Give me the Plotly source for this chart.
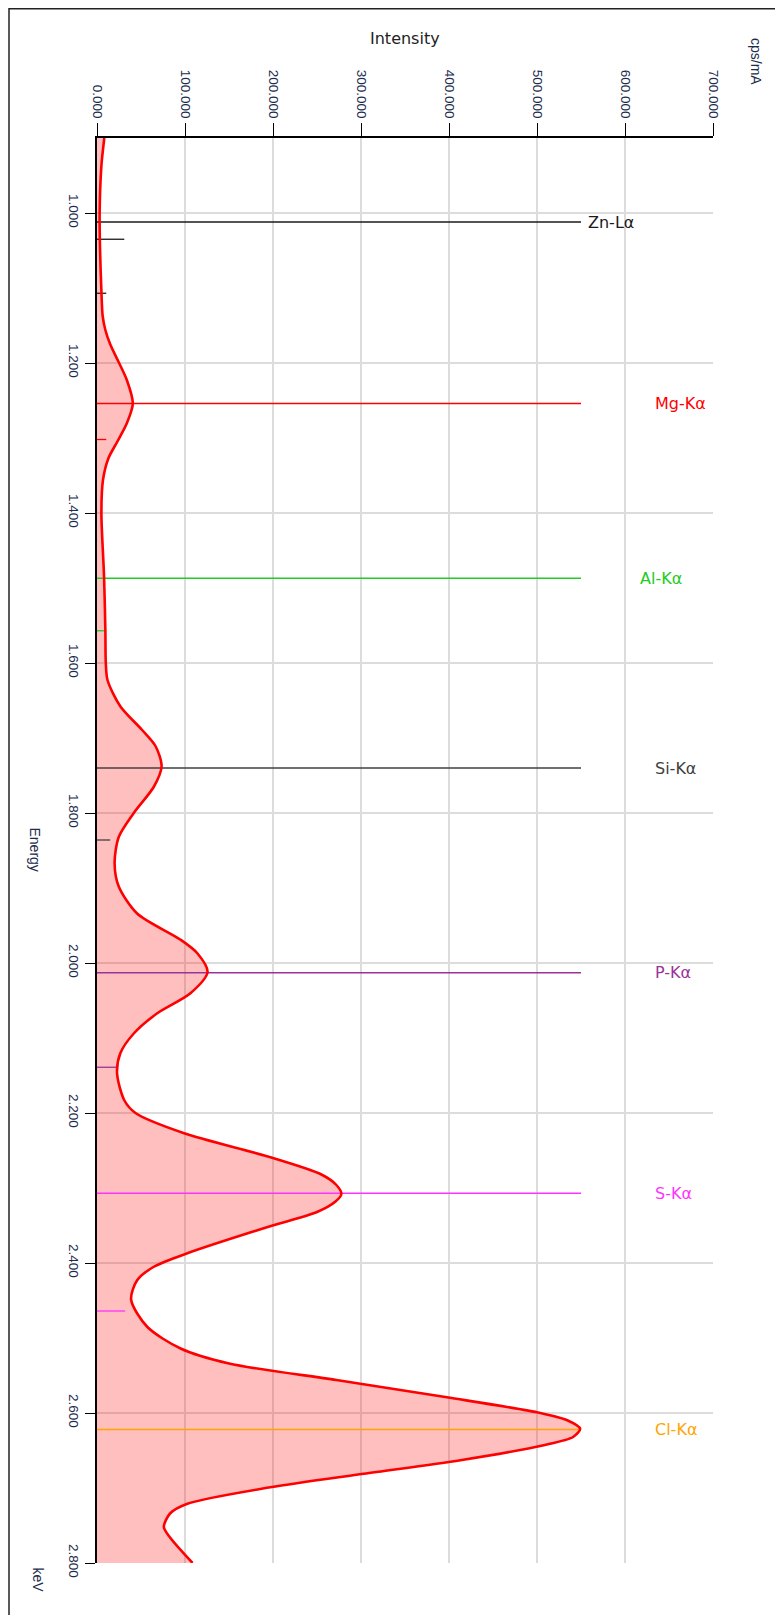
import plotly.graph_objects as go

# ---------------- data ----------------
# spectrum: energy (keV) and intensity (cps/mA)
energy_kev = [0.900, 0.937, 1.000, 1.050, 1.104, 1.137, 1.156, 1.175, 1.199, 1.223,
              1.254, 1.280, 1.304, 1.327, 1.356, 1.400, 1.484, 1.556, 1.600, 1.623,
              1.658, 1.689, 1.711, 1.738, 1.765, 1.800, 1.832, 1.867, 1.898, 1.934,
              1.969, 1.987, 2.012, 2.040, 2.067, 2.094, 2.120, 2.147, 2.183, 2.200,
              2.227, 2.258, 2.282, 2.296, 2.308, 2.318, 2.332, 2.352, 2.387, 2.405,
              2.423, 2.449, 2.485, 2.514, 2.534, 2.556, 2.579, 2.600, 2.610, 2.621,
              2.632, 2.643, 2.663, 2.681, 2.699, 2.721, 2.734, 2.752, 2.766, 2.800]
intensity = [8.3, 5.0, 3.0, 3.5, 5.0, 6.4, 9.5, 15.0, 24.7, 34.0,
             40.7, 34.0, 23.5, 13.0, 6.8, 5.0, 8.0, 9.5, 10.0, 12.0,
             26.6, 51.0, 66.6, 73.4, 64.6, 41.8, 24.7, 20.0, 24.7, 45.6,
             95.0, 114.0, 125.6, 106.5, 68.5, 41.8, 26.6, 22.8, 31.0, 43.7,
             99.0, 194.0, 255.0, 272.0, 277.7, 271.0, 250.0, 194.0, 102.7, 64.6,
             45.6, 38.8, 57.0, 95.0, 150.0, 272.0, 397.6, 503.8, 535.0, 549.0,
             541.0, 507.6, 413.0, 303.0, 197.0, 102.7, 83.0, 76.0, 83.0, 108.6]

# element line markers
line_names = ["Zn-Lα", "Mg-Kα", "Al-Kα", "Si-Kα", "P-Kα", "S-Kα", "Cl-Kα"]
line_energy = [1.012, 1.254, 1.487, 1.740, 2.013, 2.307, 2.622]
line_height = [550, 550, 550, 550, 550, 550, 550]
line_colors = ["#1a1a1a", "#ff0000", "#22cc22", "#404040", "#993399", "#ff33ff", "#ffa500"]

# minor (beta) line markers
minor_energy = [1.035, 1.107, 1.302, 1.557, 1.836, 2.139, 2.464]
minor_height = [31, 10.5, 10.5, 10, 15, 22.8, 32]
minor_colors = ["#1a1a1a", "#1a1a1a", "#ff0000", "#22cc22", "#404040", "#993399", "#ff33ff"]

x_ticks = [0, 100, 200, 300, 400, 500, 600, 700]
y_ticks = [1.0, 1.2, 1.4, 1.6, 1.8, 2.0, 2.2, 2.4, 2.6, 2.8]

# ---------------- layout helpers ----------------
OFF = 8                      # page body margin
W, H = 783 - OFF, 1615 - OFF
# plot area in page pixels
PL, PR, PT, PB = 97, 713, 138, 1563


def px(xp):
    return (xp - PL) / (PR - PL)


def py(yp):
    return (PB - yp) / (PB - PT)


FONT = "DejaVu Sans"
RFONT = "Liberation Sans"
TXT = "#1c2c4c"

fig = go.Figure()

# spectrum fill
fig.add_trace(go.Scatter(
    x=intensity, y=energy_kev, mode="lines",
    line=dict(color="rgba(0,0,0,0)", width=0, shape="spline", smoothing=0.8),
    fill="tozerox", fillcolor="rgba(255,0,0,0.25)", hoverinfo="skip", showlegend=False))

# element lines
for e, h, c in zip(line_energy, line_height, line_colors):
    fig.add_trace(go.Scatter(x=[0, h], y=[e, e], mode="lines",
                             line=dict(color=c, width=1.3), showlegend=False, hoverinfo="skip"))
for e, h, c in zip(minor_energy, minor_height, minor_colors):
    fig.add_trace(go.Scatter(x=[0, h], y=[e, e], mode="lines",
                             line=dict(color=c, width=1.3), showlegend=False, hoverinfo="skip"))

# spectrum line
fig.add_trace(go.Scatter(
    x=intensity, y=energy_kev, mode="lines",
    line=dict(color="#ff0000", width=2.6, shape="spline", smoothing=0.8),
    showlegend=False))

annotations = []
for i, (name, e, c) in enumerate(zip(line_names, line_energy, line_colors)):
    if i == 0:
        xa = 556
    elif name.startswith("Al"):
        xa = 615
    else:
        xa = 632
    annotations.append(dict(x=xa, y=e, xref="x", yref="y", text=name, showarrow=False,
                            xanchor="left", yanchor="middle",
                            font=dict(family=FONT, size=16, color=c)))

annotations += [
    dict(x=px(405), y=py(38), xref="paper", yref="paper", text="Intensity", showarrow=False,
         xanchor="center", yanchor="middle", font=dict(family=FONT, size=16, color="#222222")),
    dict(x=px(756), y=py(61), xref="paper", yref="paper", text="cps/mA", showarrow=False,
         textangle=90, xanchor="center", yanchor="middle", font=dict(family=RFONT, size=14, color=TXT)),
    dict(x=px(34.5), y=py(849), xref="paper", yref="paper", text="Energy", showarrow=False,
         textangle=90, xanchor="center", yanchor="middle", font=dict(family=RFONT, size=14, color=TXT)),
    dict(x=px(37.5), y=py(1580), xref="paper", yref="paper", text="keV", showarrow=False,
         textangle=90, xanchor="center", yanchor="middle", font=dict(family=RFONT, size=14, color=TXT)),
]

shapes = [
    dict(type="line", xref="paper", yref="paper", x0=px(9), x1=px(800), y0=py(8.8), y1=py(8.8),
         line=dict(color="#222222", width=1.5)),
    dict(type="line", xref="paper", yref="paper", x0=px(9), x1=px(9), y0=py(8), y1=py(1630),
         line=dict(color="#222222", width=1.5)),
]

fig.update_layout(
    width=W, height=H, autosize=False,
    margin=dict(l=PL - OFF, r=W - (PR - OFF), t=PT - OFF, b=H - (PB - OFF), pad=0),
    paper_bgcolor="white", plot_bgcolor="white",
    annotations=annotations, shapes=shapes, showlegend=False,
    xaxis=dict(range=[0, 700], side="top", tickvals=x_ticks, tickformat=".3f", tickangle=90,
               ticks="outside", ticklen=13, tickcolor="#000000", tickwidth=1.2,
               showline=True, linecolor="#000000", linewidth=1.5,
               showgrid=True, gridcolor="#dcdcdc", gridwidth=1.5, zeroline=False,
               tickfont=dict(family=RFONT, size=13.5, color=TXT), fixedrange=True),
    yaxis=dict(range=[2.8, 0.9], tickvals=y_ticks, tickformat=".3f", tickangle=90,
               ticks="outside", ticklen=10, tickcolor="#000000", tickwidth=1.2,
               showline=True, linecolor="#000000", linewidth=1.5,
               showgrid=True, gridcolor="#dcdcdc", gridwidth=1.5, zeroline=False,
               tickfont=dict(family=RFONT, size=13.5, color=TXT), fixedrange=True),
)

fig.write_html("out.html")
